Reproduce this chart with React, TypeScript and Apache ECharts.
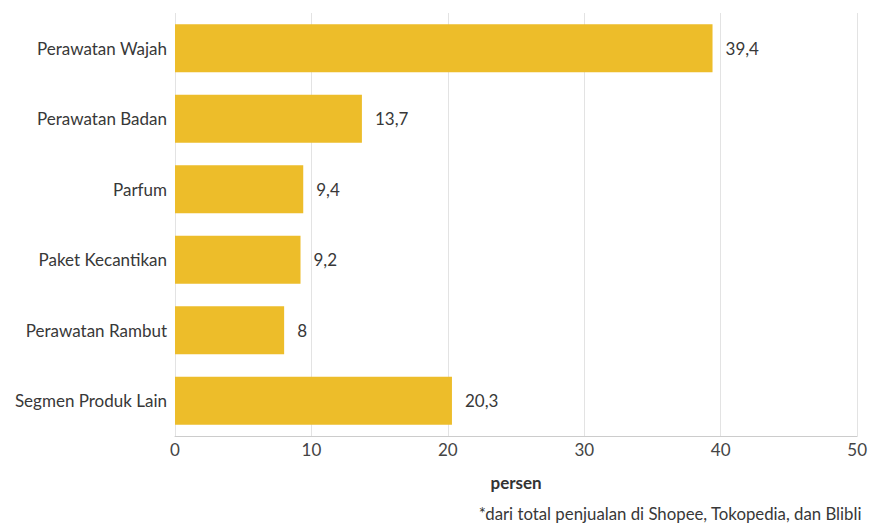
import React, { useEffect, useRef } from "react";
import * as echarts from "echarts";

const categories = [
  "Perawatan Wajah",
  "Perawatan Badan",
  "Parfum",
  "Paket Kecantikan",
  "Perawatan Rambut",
  "Segmen Produk Lain",
];
const values = [39.4, 13.7, 9.4, 9.2, 8, 20.3];
const axisTitle = "persen";
const footnote = "*dari total penjualan di Shopee, Tokopedia, dan Blibli";

const FONT = "Lato, 'Open Sans', sans-serif";
const FS = 17;

export default function App() {
  const ref = useRef<HTMLDivElement>(null);
  useEffect(() => {
    if (!ref.current) return;
    const chart = echarts.init(ref.current, null, { renderer: "svg" });
    chart.setOption({
      animation: false,
      backgroundColor: "#ffffff",
      textStyle: { fontFamily: FONT },
      grid: { left: 175, right: 10, top: 13, bottom: 91, containLabel: false },
      xAxis: {
        type: "value",
        min: 0,
        max: 50,
        interval: 10,
        name: axisTitle,
        nameLocation: "middle",
        nameGap: 38,
        nameTextStyle: { fontFamily: FONT, fontSize: 17, fontWeight: "bold", color: "#333" },
        axisLine: { show: true, lineStyle: { color: "#cccccc" } },
        axisTick: { show: false },
        axisLabel: { fontFamily: FONT, fontSize: FS, color: "#444", margin: 5 },
        splitLine: { show: true, lineStyle: { color: "#e3e3e3" } },
      },
      yAxis: {
        type: "category",
        inverse: true,
        data: categories,
        axisLine: { show: false },
        axisTick: { show: false },
        axisLabel: { fontFamily: FONT, fontSize: FS, color: "#383838", margin: 8 },
      },
      series: [
        {
          type: "bar",
          data: values,
          barCategoryGap: "32%",
          itemStyle: { color: "#EDBD2A" },
          label: {
            show: true,
            position: "right",
            distance: 13,
            fontFamily: FONT,
            fontSize: FS,
            color: "#383838",
            formatter: (p: any) => String(p.value).replace(".", ","),
          },
        },
      ],
      graphic: [
        {
          type: "text",
          right: 8,
          top: 505,
          style: { text: footnote, fontFamily: FONT, fontSize: 16.8, fill: "#383838" },
        },
      ],
    });
    return () => chart.dispose();
  }, []);
  return (
    <div
      ref={ref}
      style={{ position: "absolute", left: 0, top: 0, width: 870, height: 527 }}
    />
  );
}
